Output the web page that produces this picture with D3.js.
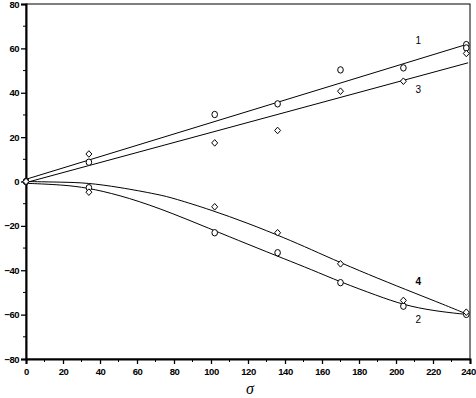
<!DOCTYPE html>
<html>
<head>
<meta charset="utf-8">
<script src="https://cdn.jsdelivr.net/npm/d3@7"></script>
<style>
  body { margin: 0; background: #fff; }
  svg { display: block; }
  text { font-family: "Liberation Sans", Arial, sans-serif; }
</style>
</head>
<body>
<svg class="chart_svg" width="476" height="398"></svg>
<script>
// measured points (circles: series 1 & 2, diamonds: series 3 & 4)
const s1x = [0, 34, 102, 136, 170, 204, 238, 238]
const s1y = [0, 8.7, 30.2, 35, 50.3, 51.2, 61.7, 60.2]
const s3x = [0, 34, 102, 136, 170, 204, 238]
const s3y = [0, 12.4, 17.4, 23, 40.7, 45.2, 57.7]
const s2x = [0, 34, 102, 136, 170, 204, 238]
const s2y = [0, -2.8, -23.1, -32.1, -45.6, -56.2, -59.9]
const s4x = [0, 34, 102, 136, 170, 204, 238]
const s4y = [0, -4.8, -11.4, -23.1, -37.1, -53.6, -58.9]

// fitted lines / curves
const fit1x = [0, 239], fit1y = [1, 62]
const fit3x = [0, 239], fit3y = [-0.5, 53.5]
const fit2x = [0, 20, 33, 50, 72, 100, 120, 140, 154, 170, 190, 204, 220, 239]
const fit2y = [-0.8, -1.5, -2.8, -6, -11.9, -21.5, -28.3, -35, -39.6, -45.3, -51.5, -55.6, -58.3, -60]
const fit4x = [0, 20, 33, 50, 72, 80, 100, 120, 140, 154, 170, 190, 211, 225, 239]
const fit4y = [0, -0.3, -0.6, -2.5, -5.9, -7.6, -12.8, -18.8, -25.5, -30.6, -36.6, -43.6, -50.6, -55.2, -60]

const xTicks = [0, 20, 40, 60, 80, 100, 120, 140, 160, 180, 200, 220, 240]
const yTicks = [-80, -60, -40, -20, 0, 20, 40, 60, 80]
const curveLabels = ["1", "3", "4", "2"]
const labelAt = [[212, 63], [212, 41], [212, -45.5], [212, -62.5]]

const svg = d3.select("svg.chart_svg")
const margin = { top: 4, left: 26, right: 6, bottom: 39 }
const W = 476, H = 398
const x = d3.scaleLinear().domain([0, 240]).range([margin.left, W - margin.right])
const y = d3.scaleLinear().domain([-80, 80]).range([H - margin.bottom, margin.top])

const zip = (a, b) => a.map((v, i) => [v, b[i]])

// frame: thin top/right, thick axes
svg.append("rect")
  .attr("x", x(0)).attr("y", y(80))
  .attr("width", x(240) - x(0)).attr("height", y(-80) - y(80))
  .attr("fill", "none").attr("stroke", "#000").attr("stroke-width", 1)

const minorX = d3.range(10, 240, 20)
const minorY = d3.range(-70, 80, 20)

const xAxis = svg.append("g")
  .attr("transform", `translate(0,${y(-80)})`)
  .call(d3.axisBottom(x).tickValues(xTicks).tickSize(5).tickPadding(4))
xAxis.append("g").selectAll("line").data(minorX).join("line")
  .attr("x1", d => x(d)).attr("x2", d => x(d)).attr("y1", 0).attr("y2", 3)
  .attr("stroke", "#000")
// keep the last label inside the page
xAxis.selectAll(".tick text").filter(d => d === 240).attr("dx", -2)

const yAxis = svg.append("g")
  .attr("transform", `translate(${x(0)},0)`)
  .call(d3.axisLeft(y).tickValues(yTicks).tickSize(5).tickPadding(2))
yAxis.append("g").selectAll("line").data(minorY).join("line")
  .attr("y1", d => y(d)).attr("y2", d => y(d)).attr("x1", 0).attr("x2", -3)
  .attr("stroke", "#000")

svg.selectAll(".domain").attr("stroke-width", 2)
svg.selectAll(".tick line").attr("stroke-width", 1.3)
svg.selectAll(".tick text")
  .attr("font-size", 9.5).attr("font-weight", "bold").attr("fill", "#000")
  .attr("letter-spacing", -0.5)
  .style("font-family", "'Liberation Sans', Arial, sans-serif")

// axis title
svg.append("text")
  .attr("x", 250).attr("y", 394)
  .attr("text-anchor", "middle")
  .style("font-family", "'Liberation Serif', 'Times New Roman', serif")
  .attr("font-style", "italic").attr("font-size", 16)
  .text("σ")

const line = d3.line().x(d => x(d[0])).y(d => y(d[1]))
const smooth = d3.line().x(d => x(d[0])).y(d => y(d[1])).curve(d3.curveBasis)

const fits = svg.append("g").attr("fill", "none").attr("stroke", "#000").attr("stroke-width", 1)
fits.append("path").attr("d", line(zip(fit1x, fit1y)))
fits.append("path").attr("d", line(zip(fit3x, fit3y)))
fits.append("path").attr("d", smooth(zip(fit2x, fit2y)))
fits.append("path").attr("d", smooth(zip(fit4x, fit4y)))

// markers
const circles = zip(s1x, s1y).concat(zip(s2x, s2y))
const diamonds = zip(s3x, s3y).concat(zip(s4x, s4y))

svg.append("g").selectAll("ellipse").data(circles).join("ellipse")
  .attr("cx", d => x(d[0])).attr("cy", d => y(d[1]))
  .attr("rx", 2.8).attr("ry", 3.2)
  .attr("fill", "#fff").attr("stroke", "#000").attr("stroke-width", 1)

svg.append("g").selectAll("path").data(diamonds).join("path")
  .attr("transform", d => `translate(${x(d[0])},${y(d[1])})`)
  .attr("d", "M0,-3.3L3,0L0,3.3L-3,0Z")
  .attr("fill", "#fff").attr("stroke", "#000").attr("stroke-width", 1)

// curve numbers
svg.append("g").selectAll("text").data(curveLabels).join("text")
  .attr("x", (d, i) => x(labelAt[i][0])).attr("y", (d, i) => y(labelAt[i][1]))
  .attr("text-anchor", "middle").attr("dominant-baseline", "middle")
  .attr("font-size", 10)
  .attr("font-weight", d => d === "4" ? "bold" : "normal")
  .text(d => d)
</script>
</body>
</html>
